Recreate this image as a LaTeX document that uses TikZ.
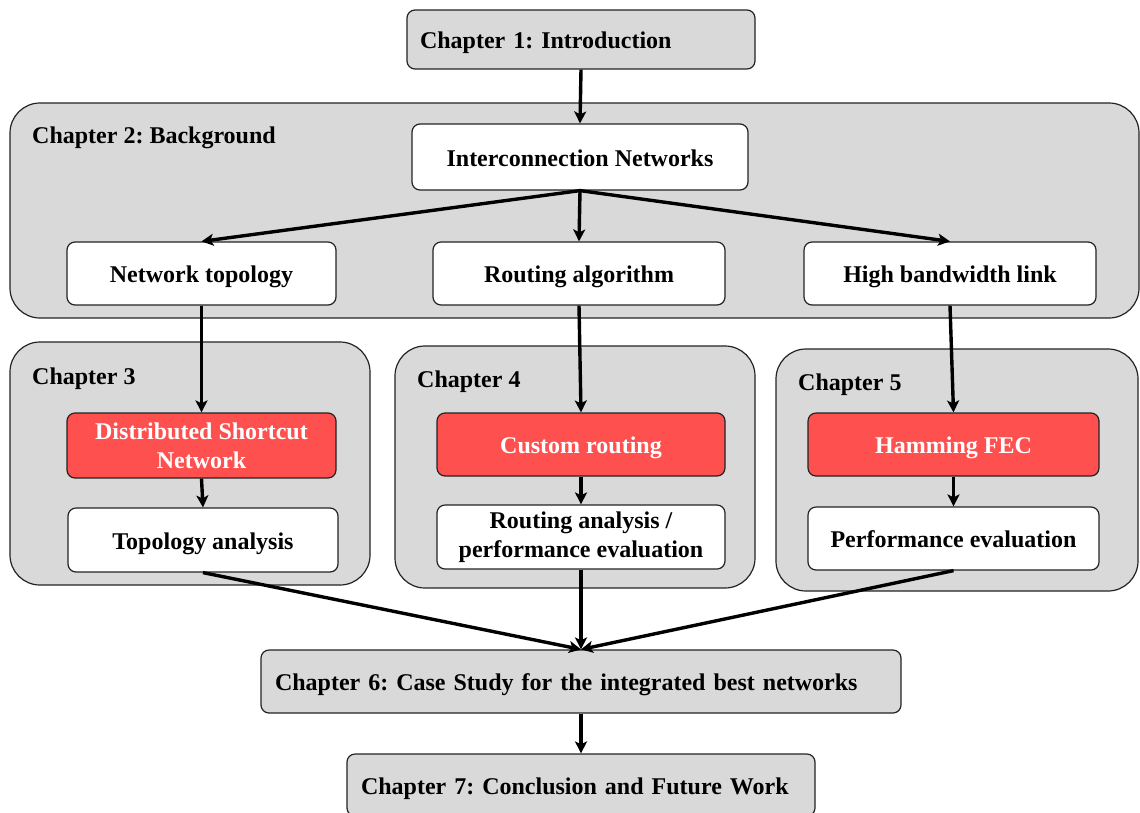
\documentclass[tikz,border=0pt]{standalone}
\usepackage{fontspec}
\setmainfont{Liberation Serif}
\usetikzlibrary{arrows.meta}
\definecolor{boxgray}{RGB}{217,217,217}
\definecolor{hired}{RGB}{255,80,80}
\definecolor{edgeline}{RGB}{35,35,35}
\frenchspacing

\begin{document}
\begin{tikzpicture}[x=1pt,y=-1pt,
  every node/.style={font=\fontsize{24}{29}\selectfont\bfseries, text height=22pt, text depth=4pt},
  box/.style={draw=edgeline, line width=1.2pt, rounded corners=8pt, inner sep=0pt},
  graybox/.style={box, fill=boxgray, align=left},
  whitebox/.style={box, fill=white, align=center},
  redbox/.style={box, fill=hired, text=white, align=center},
  twolines/.style={text height={}, text depth={}},
  group/.style={draw=edgeline, line width=1.2pt, fill=boxgray, rounded corners=30pt, inner sep=0pt},
  grouplabel/.style={anchor=west, inner sep=0pt},
  flow/.style={line width=3.4pt, -{Stealth[length=12pt,width=12pt,inset=3pt]}},
]
\useasboundingbox (0,0) rectangle (1140,812);

% chapter groups
\node[group, minimum width=1129pt, minimum height=215pt] (ch2) at (574.5,210.5) {};
\node[grouplabel] (ch2lab) at (32,134) {Chapter 2: Background};
\node[group, minimum width=360pt, minimum height=243pt] (ch3) at (190,463.5) {};
\node[grouplabel] (ch3lab) at (32,375) {Chapter 3};
\node[group, minimum width=360pt, minimum height=242pt] (ch4) at (575,467) {};
\node[grouplabel] (ch4lab) at (417,378) {Chapter 4};
\node[group, minimum width=362pt, minimum height=242pt] (ch5) at (957,470) {};
\node[grouplabel] (ch5lab) at (798,381) {Chapter 5};

% top and bottom chapters
\node[graybox, text width=322pt, inner xsep=13pt, minimum height=59pt] (ch1) at (581,39.5) {Chapter 1: Introduction};
\node[graybox, text width=612pt, inner xsep=14pt, minimum height=63pt] (ch6) at (581,681.5) {Chapter 6: Case Study for the integrated best networks};
\node[graybox, text width=440pt, inner xsep=14pt, minimum height=62pt] (ch7) at (581,785) {Chapter 7: Conclusion and Future Work};

% background topics
\node[whitebox, minimum width=336pt, minimum height=66pt] (ic) at (580,157) {Interconnection Networks};
\node[whitebox, minimum width=269pt, minimum height=63pt] (nt) at (201.5,273.5) {Network topology};
\node[whitebox, minimum width=292pt, minimum height=63pt] (ra) at (579,273.5) {Routing algorithm};
\node[whitebox, minimum width=292pt, minimum height=63pt] (hbl) at (950,273.5) {High bandwidth link};

% contributions
\node[redbox, twolines, minimum width=269pt, minimum height=65pt] (dsn) at (201.5,445.5) {Distributed Shortcut\\Network};
\node[whitebox, minimum width=270pt, minimum height=64pt] (ta) at (203,540) {Topology analysis};
\node[redbox, minimum width=288pt, minimum height=63pt] (cr) at (581,444.5) {Custom routing};
\node[whitebox, twolines, minimum width=288pt, minimum height=64pt] (rae) at (581,537) {Routing analysis /\\performance evaluation};
\node[redbox, minimum width=291pt, minimum height=63pt] (ham) at (953.5,444.5) {Hamming FEC};
\node[whitebox, minimum width=291pt, minimum height=63pt] (pe) at (953.5,538.5) {Performance evaluation};

% connectors
\draw[flow] (ch1.south) -- (ic.north);
\draw[flow] (ic.south) -- (nt.north);
\draw[flow] (ic.south) -- (ra.north);
\draw[flow] (ic.south) -- (hbl.north);
\draw[flow] (nt.south) -- (dsn.north);
\draw[flow] (ra.south) -- (cr.north);
\draw[flow] (hbl.south) -- (ham.north);
\draw[flow] (dsn.south) -- (ta.north);
\draw[flow] (cr.south) -- (rae.north);
\draw[flow] (ham.south) -- (pe.north);
\draw[flow] (ta.south) -- (ch6.north);
\draw[flow] (rae.south) -- (ch6.north);
\draw[flow] (pe.south) -- (ch6.north);
\draw[flow] (ch6.south) -- (ch7.north);
\end{tikzpicture}
\end{document}
